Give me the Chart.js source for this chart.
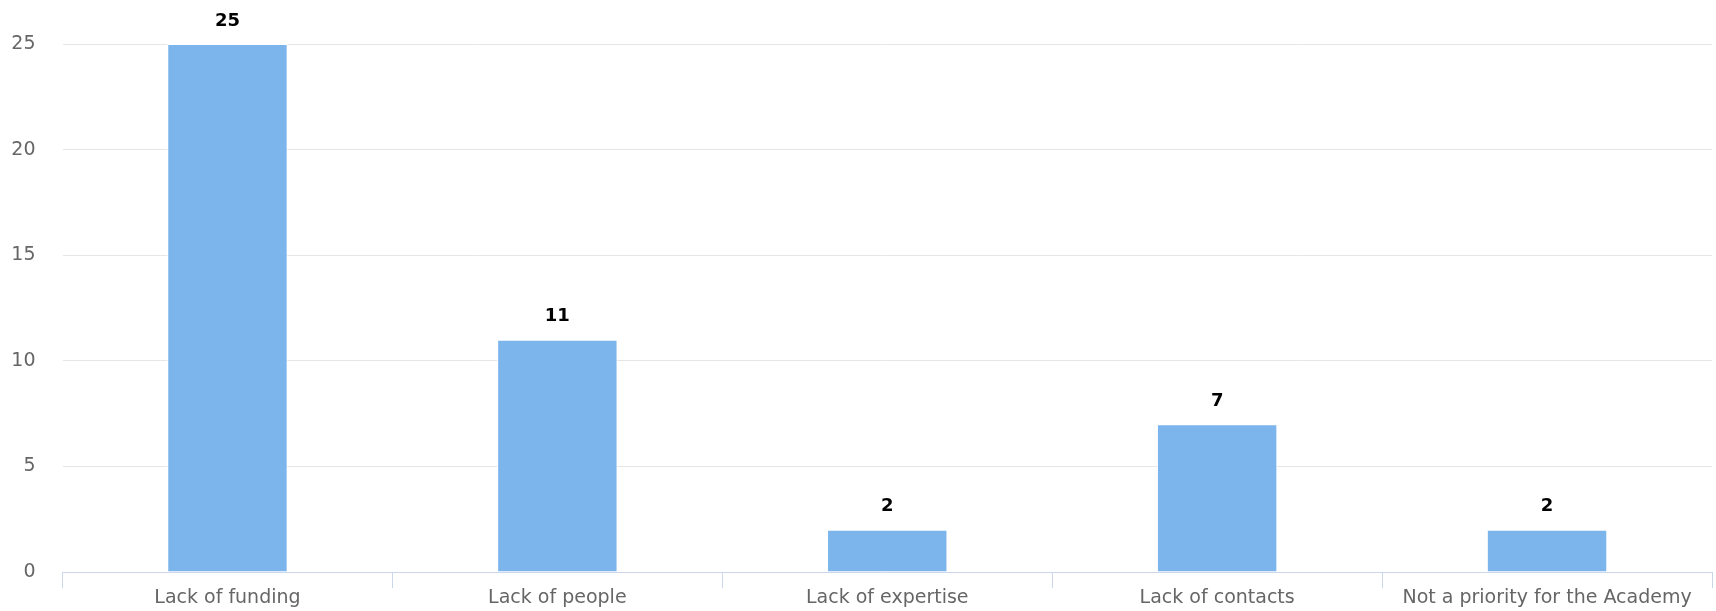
<!DOCTYPE html>
<html>
<head>
<meta charset="utf-8">
<script src="https://cdn.jsdelivr.net/npm/chart.js@4/dist/chart.umd.min.js"></script>
<style>
  html, body { margin: 0; padding: 0; background: #ffffff; }
  #wrap { width: 1716px; height: 611px; position: relative; }
</style>
</head>
<body>
<div id="wrap"><canvas id="c" width="1716" height="611"></canvas></div>
<script>
const categories = ["Lack of funding", "Lack of people", "Lack of expertise", "Lack of contacts", "Not a priority for the Academy"];
const values = [25, 11, 2, 7, 2];
const yTicks = [0, 5, 10, 15, 20, 25];

const FONT = "'DejaVu Sans', Verdana, sans-serif";

const dataLabels = {
  id: 'dataLabels',
  afterDatasetsDraw(chart) {
    const ctx = chart.ctx;
    const meta = chart.getDatasetMeta(0);
    ctx.save();
    ctx.font = "bold 18px " + FONT;
    ctx.textAlign = 'center';
    ctx.textBaseline = 'alphabetic';
    ctx.lineJoin = 'round';
    meta.data.forEach((bar, i) => {
      const txt = String(values[i]);
      const x = bar.x;
      const y = bar.y - 18.5;
      ctx.strokeStyle = '#ffffff';
      ctx.lineWidth = 2;
      ctx.strokeText(txt, x, y);
      ctx.fillStyle = '#000000';
      ctx.fillText(txt, x, y);
    });
    ctx.restore();
  }
};

new Chart(document.getElementById('c'), {
  type: 'bar',
  data: {
    labels: categories,
    datasets: [{
      data: values,
      backgroundColor: '#7cb5ec',
      borderColor: '#ffffff',
      borderWidth: 1,
      categoryPercentage: 1.0,
      barPercentage: 0.365
    }]
  },
  options: {
    responsive: false,
    animation: false,
    devicePixelRatio: 1,
    layout: { padding: { left: 0, right: 4, top: 44, bottom: 0 } },
    plugins: { legend: { display: false }, tooltip: { enabled: false } },
    scales: {
      x: {
        afterFit(scale) { scale.height = 39; },
        grid: {
          display: true,
          offset: true,
          drawOnChartArea: false,
          drawTicks: true,
          tickLength: 16,
          color: '#ccd6eb',
          lineWidth: 1
        },
        border: { display: true, color: '#ccd6eb', width: 1 },
        ticks: {
          color: '#666666',
          font: { family: FONT, size: 19 },
          padding: -1,
          maxRotation: 0,
          autoSkip: false
        }
      },
      y: {
        min: 0,
        max: 25,
        afterFit(scale) { scale.width = 62.5; },
        afterBuildTicks(scale) { scale.ticks = yTicks.map(v => ({ value: v })); },
        grid: { color: '#e6e6e6', lineWidth: 1, drawTicks: false },
        border: { display: false },
        ticks: {
          color: '#666666',
          font: { family: FONT, size: 19 },
          padding: 27
        }
      }
    }
  },
  plugins: [dataLabels]
});
</script>
</body>
</html>
